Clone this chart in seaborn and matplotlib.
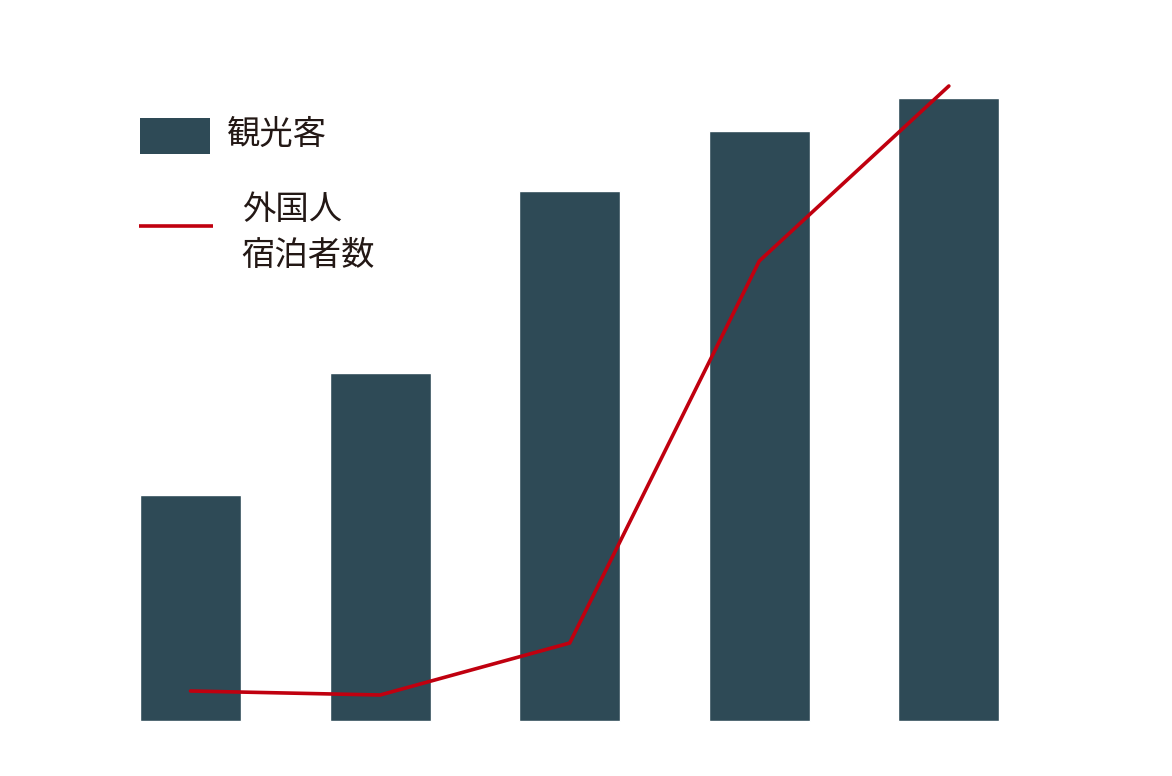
import numpy as np
import pandas as pd
import seaborn as sns
from matplotlib import pyplot as plt
from matplotlib.patches import Rectangle

# values (arbitrary units, same scale for both series)
periods = ["1", "2", "3", "4", "5"]
visitors = [226, 348, 530, 590, 623]
foreign_stays = [30, 26, 78, 460, 635]
labels = ["観光客", "外国人\n宿泊者数"]

bar_color = "#2e4a56"
line_color = "#c0000f"
text_color = "#231815"

sns.set_theme(style="white")
plt.rcParams["font.family"] = ["Noto Sans CJK JP", "DejaVu Sans"]

df = pd.DataFrame({"period": periods, "visitors": visitors, "stays": foreign_stays})

fig = plt.figure(figsize=(11.72, 7.76), dpi=100)
ax = fig.add_axes([0, 0, 1, 1])

sns.barplot(data=df, x="period", y="visitors", color=bar_color,
            width=0.533, saturation=1, ax=ax)
ax.plot(np.arange(len(periods)), df["stays"], color=line_color, lw=2.6,
        solid_joinstyle="miter")

# map data units onto the canvas the way the reference does
ax.set_xlim(-1.005, 5.177)
ax.set_ylim(-55, 721)
ax.set_axis_off()

# hand-placed legend (labels are not aligned in the original)
ax.add_patch(Rectangle((0.1195, 0.8015), 0.0597, 0.0464, transform=ax.transAxes,
                       facecolor=bar_color, edgecolor="none"))
ax.plot([0.1186, 0.1817], [0.7088, 0.7088], transform=ax.transAxes,
        color=line_color, lw=2.6, solid_capstyle="butt")
ax.text(0.1935, 0.8273, labels[0], transform=ax.transAxes, fontsize=24,
        color=text_color, ha="left", va="center")
ax.text(0.2063, 0.7004, labels[1], transform=ax.transAxes, fontsize=24,
        color=text_color, ha="left", va="center", linespacing=1.4)

fig.savefig("out.png", dpi=100, facecolor="white")
